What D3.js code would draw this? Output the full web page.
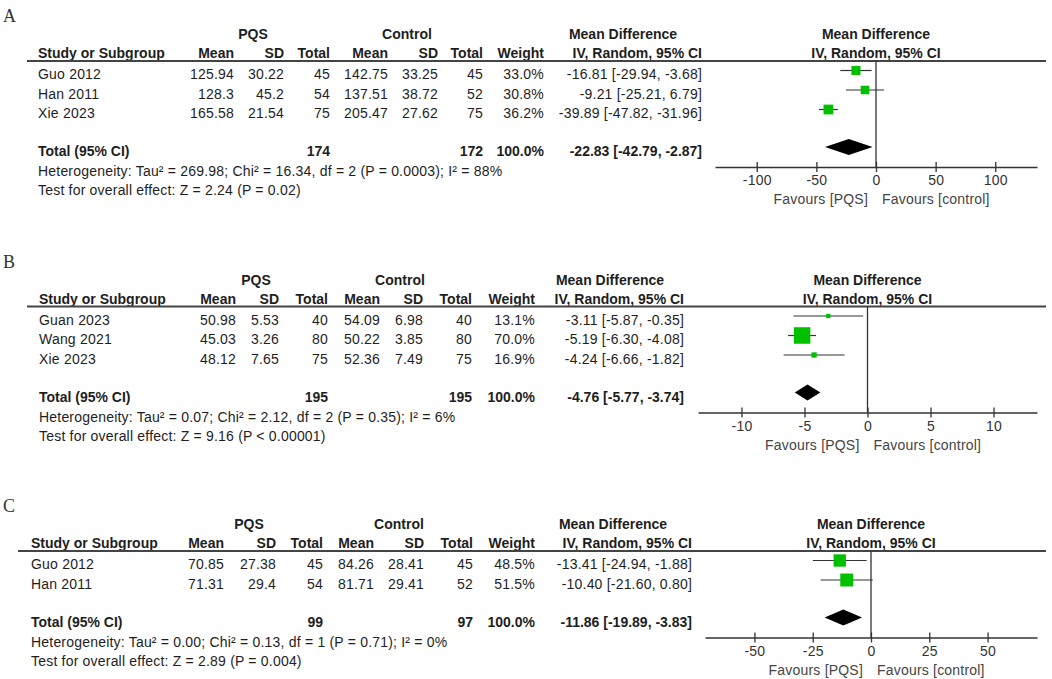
<!DOCTYPE html>
<html>
<head>
<meta charset="utf-8">
<script src="https://cdn.jsdelivr.net/npm/d3@7"></script>
<style>
  body { margin: 0; background: #fff; }
  svg { display: block; }
</style>
</head>
<body>
<div id="chart"></div>
<script>
// ---- panel A data
const studiesA = ["Guo 2012", "Han 2011", "Xie 2023"];
const pqsMeanA = [125.94, 128.3, 165.58];
const pqsSdA = [30.22, 45.2, 21.54];
const pqsNA = [45, 54, 75];
const ctrlMeanA = [142.75, 137.51, 205.47];
const ctrlSdA = [33.25, 38.72, 27.62];
const ctrlNA = [45, 52, 75];
const weightA = [33.0, 30.8, 36.2];
const mdA = [-16.81, -9.21, -39.89];
const loA = [-29.94, -25.21, -47.82];
const hiA = [-3.68, 6.79, -31.96];
const totalNA = [174, 172];
const pooledA = [-22.83, -42.79, -2.87];
const ticksA = [-100, -50, 0, 50, 100];
const hetA = "Heterogeneity: Tau² = 269.98; Chi² = 16.34, df = 2 (P = 0.0003); I² = 88%";
const testA = "Test for overall effect: Z = 2.24 (P = 0.02)";

// ---- panel B data
const studiesB = ["Guan 2023", "Wang 2021", "Xie 2023"];
const pqsMeanB = [50.98, 45.03, 48.12];
const pqsSdB = [5.53, 3.26, 7.65];
const pqsNB = [40, 80, 75];
const ctrlMeanB = [54.09, 50.22, 52.36];
const ctrlSdB = [6.98, 3.85, 7.49];
const ctrlNB = [40, 80, 75];
const weightB = [13.1, 70.0, 16.9];
const mdB = [-3.11, -5.19, -4.24];
const loB = [-5.87, -6.30, -6.66];
const hiB = [-0.35, -4.08, -1.82];
const totalNB = [195, 195];
const pooledB = [-4.76, -5.77, -3.74];
const ticksB = [-10, -5, 0, 5, 10];
const hetB = "Heterogeneity: Tau² = 0.07; Chi² = 2.12, df = 2 (P = 0.35); I² = 6%";
const testB = "Test for overall effect: Z = 9.16 (P < 0.00001)";

// ---- panel C data
const studiesC = ["Guo 2012", "Han 2011"];
const pqsMeanC = [70.85, 71.31];
const pqsSdC = [27.38, 29.4];
const pqsNC = [45, 54];
const ctrlMeanC = [84.26, 81.71];
const ctrlSdC = [28.41, 29.41];
const ctrlNC = [45, 52];
const weightC = [48.5, 51.5];
const mdC = [-13.41, -10.40];
const loC = [-24.94, -21.60];
const hiC = [-1.88, 0.80];
const totalNC = [99, 97];
const pooledC = [-11.86, -19.89, -3.83];
const ticksC = [-50, -25, 0, 25, 50];
const hetC = "Heterogeneity: Tau² = 0.00; Chi² = 0.13, df = 1 (P = 0.71); I² = 0%";
const testC = "Test for overall effect: Z = 2.89 (P = 0.004)";

// layout of each panel (pixels), kept apart from the data
const panels = [
  {letter: "A", rule: 61, ruleX: 27, plot: [715, 1037], half: 135,
   cols: {study: 38, pm: 234, psd: 284, pn: 330, cm: 388, csd: 438, cn: 483, w: 544, ci: 702},
   pqsHead: 253, ctrlHead: 407, mdHead: 623,
   studies: studiesA, pqsMean: pqsMeanA, pqsSd: pqsSdA, pqsN: pqsNA,
   ctrlMean: ctrlMeanA, ctrlSd: ctrlSdA, ctrlN: ctrlNA, weight: weightA,
   md: mdA, lo: loA, hi: hiA, totalN: totalNA, pooled: pooledA, ticks: ticksA, het: hetA, test: testA},
  {letter: "B", rule: 306.5, ruleX: 27, plot: [698, 1037], half: 13.45,
   cols: {study: 39, pm: 236, psd: 279, pn: 328, cm: 380, csd: 423, cn: 472, w: 535, ci: 684},
   pqsHead: 256, ctrlHead: 400, mdHead: 610,
   studies: studiesB, pqsMean: pqsMeanB, pqsSd: pqsSdB, pqsN: pqsNB,
   ctrlMean: ctrlMeanB, ctrlSd: ctrlSdB, ctrlN: ctrlNB, weight: weightB,
   md: mdB, lo: loB, hi: hiB, totalN: totalNB, pooled: pooledB, ticks: ticksB, het: hetB, test: testB},
  {letter: "C", rule: 551, ruleX: 18, plot: [705, 1037], half: 71.2,
   cols: {study: 31, pm: 224, psd: 276, pn: 323, cm: 374, csd: 424, cn: 473, w: 535, ci: 692},
   pqsHead: 249, ctrlHead: 399, mdHead: 613,
   studies: studiesC, pqsMean: pqsMeanC, pqsSd: pqsSdC, pqsN: pqsNC,
   ctrlMean: ctrlMeanC, ctrlSd: ctrlSdC, ctrlN: ctrlNC, weight: weightC,
   md: mdC, lo: loC, hi: hiC, totalN: totalNC, pooled: pooledC, ticks: ticksC, het: hetC, test: testC}
];

const width = 1052, height = 679;
const sans = "'Liberation Sans', Arial, sans-serif";
const ink = "#1e1e1e";
const green = "#00c000";

const svg = d3.select("#chart").append("svg")
  .attr("width", width).attr("height", height)
  .attr("font-family", sans);
svg.append("rect").attr("width", width).attr("height", height).attr("fill", "#fff");

// square side grows with the study weight
const boxSize = d3.scalePow().exponent(0.8).domain([0, 100]).range([0, 22]);

const ci = (m, l, h) => `${m.toFixed(2)} [${l.toFixed(2)}, ${h.toFixed(2)}]`;

function txt(g, x, y, s, opts = {}) {
  // y is the visual middle of the text
  return g.append("text")
    .attr("x", x).attr("y", y + 5)
    .attr("text-anchor", opts.anchor || "start")
    .attr("font-size", opts.size || 14)
    .attr("font-weight", opts.bold ? "bold" : "normal")
    .attr("letter-spacing", opts.bold ? 0 : 0.2)
    .attr("fill", opts.fill || ink)
    .text(s);
}

function drawPanel(p) {
  const g = svg.append("g");
  const c = p.cols;
  const n = p.studies.length;

  const y = d3.scaleLinear().domain([0, 1]).range([p.rule + 9.5, p.rule + 29]);
  const totalY = y(n - 1) + 37.5;
  const axisY = totalY + 20;
  const x = d3.scaleLinear().domain([-p.half, p.half]).range(p.plot);
  const mid = (p.plot[0] + p.plot[1]) / 2;

  // panel letter
  g.append("text").attr("x", 3).attr("y", p.rule - 39)
    .attr("font-family", "'Liberation Serif', 'Times New Roman', serif")
    .attr("font-size", 18).attr("fill", "#333").text(p.letter);

  // headers
  const h1 = p.rule - 27, h2 = p.rule - 8;
  txt(g, p.pqsHead, h1, "PQS", {bold: true, anchor: "middle"});
  txt(g, p.ctrlHead, h1, "Control", {bold: true, anchor: "middle"});
  txt(g, p.mdHead, h1, "Mean Difference", {bold: true, anchor: "middle"});
  txt(g, mid, h1, "Mean Difference", {bold: true, anchor: "middle"});
  txt(g, c.study, h2, "Study or Subgroup", {bold: true});
  [["pm", "Mean"], ["psd", "SD"], ["pn", "Total"], ["cm", "Mean"], ["csd", "SD"],
   ["cn", "Total"], ["w", "Weight"], ["ci", "IV, Random, 95% CI"]]
    .forEach(([k, s]) => txt(g, c[k], h2, s, {bold: true, anchor: "end"}));
  txt(g, mid, h2, "IV, Random, 95% CI", {bold: true, anchor: "middle"});

  g.append("line").attr("x1", p.ruleX).attr("x2", 1046)
    .attr("y1", p.rule).attr("y2", p.rule)
    .attr("stroke", "#444").attr("stroke-width", 1.8);

  // study rows
  p.studies.forEach((s, i) => {
    const ty = y(i) + 3.5;
    txt(g, c.study, ty, s);
    txt(g, c.pm, ty, String(p.pqsMean[i]), {anchor: "end"});
    txt(g, c.psd, ty, String(p.pqsSd[i]), {anchor: "end"});
    txt(g, c.pn, ty, String(p.pqsN[i]), {anchor: "end"});
    txt(g, c.cm, ty, String(p.ctrlMean[i]), {anchor: "end"});
    txt(g, c.csd, ty, String(p.ctrlSd[i]), {anchor: "end"});
    txt(g, c.cn, ty, String(p.ctrlN[i]), {anchor: "end"});
    txt(g, c.w, ty, p.weight[i].toFixed(1) + "%", {anchor: "end"});
    txt(g, c.ci, ty, ci(p.md[i], p.lo[i], p.hi[i]), {anchor: "end"});
  });

  // total row + footnotes
  const tty = totalY + 4;
  txt(g, c.study, tty, "Total (95% CI)", {bold: true});
  txt(g, c.pn, tty, String(p.totalN[0]), {bold: true, anchor: "end"});
  txt(g, c.cn, tty, String(p.totalN[1]), {bold: true, anchor: "end"});
  txt(g, c.w, tty, "100.0%", {bold: true, anchor: "end"});
  txt(g, c.ci, tty, ci(p.pooled[0], p.pooled[1], p.pooled[2]), {bold: true, anchor: "end"});
  txt(g, c.study, totalY + 24, p.het);
  txt(g, c.study, totalY + 43, p.test);

  // zero line
  g.append("line").attr("x1", x(0)).attr("x2", x(0))
    .attr("y1", p.rule).attr("y2", axisY)
    .attr("stroke", "#333").attr("stroke-width", 1.3);

  // whiskers and squares
  g.selectAll(".ci").data(p.md).enter().append("line")
    .attr("x1", (d, i) => x(p.lo[i])).attr("x2", (d, i) => x(p.hi[i]))
    .attr("y1", (d, i) => y(i)).attr("y2", (d, i) => y(i))
    .attr("stroke", "#333").attr("stroke-width", 1.2);
  g.selectAll(".box").data(p.md).enter().append("rect")
    .attr("x", (d, i) => x(d) - boxSize(p.weight[i]) / 2)
    .attr("y", (d, i) => y(i) - boxSize(p.weight[i]) / 2)
    .attr("width", (d, i) => boxSize(p.weight[i]))
    .attr("height", (d, i) => boxSize(p.weight[i]))
    .attr("fill", green);

  // pooled diamond
  g.append("polygon")
    .attr("points", [[x(p.pooled[1]), totalY], [x(p.pooled[0]), totalY - 8],
                     [x(p.pooled[2]), totalY], [x(p.pooled[0]), totalY + 8]].join(" "))
    .attr("fill", "#000");

  // axis
  const ax = g.append("g").attr("transform", `translate(0,${axisY})`)
    .call(d3.axisBottom(x).tickValues(p.ticks).tickSizeOuter(0).tickFormat(d => String(d)));
  ax.select(".domain").attr("stroke", "#333").attr("stroke-width", 1.5);
  ax.selectAll(".tick line").attr("y1", -5).attr("y2", 5).attr("stroke", "#333").attr("stroke-width", 1.3);
  ax.selectAll(".tick text").attr("y", 18).attr("dy", null)
    .attr("font-size", 14).attr("font-family", sans).attr("letter-spacing", 0.2).attr("fill", "#333");

  txt(g, x(0) - 8, axisY + 32, "Favours [PQS]", {anchor: "end", fill: "#444"});
  txt(g, x(0) + 6, axisY + 32, "Favours [control]", {fill: "#444"});
}

panels.forEach(drawPanel);
</script>
</body>
</html>
